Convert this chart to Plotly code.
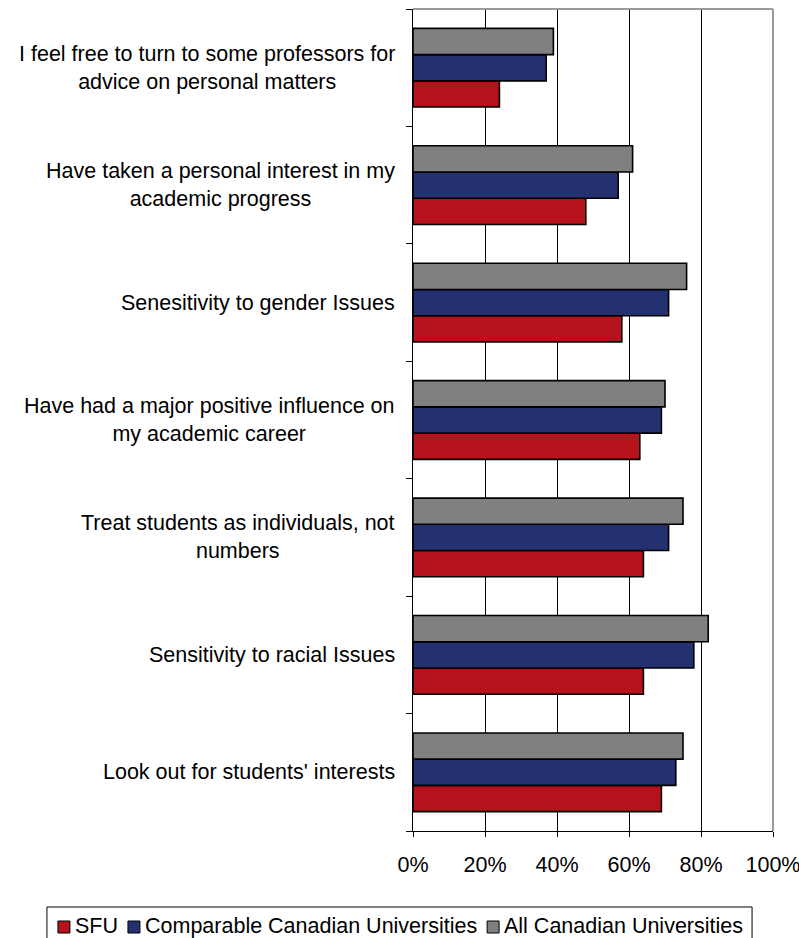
import plotly.graph_objects as go

# Survey items, listed top to bottom
categories = [
    "I feel free to turn to some professors for<br>advice on personal matters",
    "Have taken a personal interest in my<br>academic progress",
    "Senesitivity to gender Issues",
    "Have had a major positive influence on<br>my academic career",
    "Treat students as individuals, not<br>numbers",
    "Sensitivity to racial Issues",
    "Look out for students' interests",
]

# Percent agreeing, per group
sfu = [24, 48, 58, 63, 64, 64, 69]
comparable = [37, 57, 71, 69, 71, 78, 73]
all_canadian = [39, 61, 76, 70, 75, 82, 75]

series_names = ["SFU", "Comparable Canadian Universities", "All Canadian Universities"]
series_values = [sfu, comparable, all_canadian]
series_colors = ["#B5121B", "#253070", "#808080"]

x_ticks = [0, 20, 40, 60, 80, 100]

FONT = "Liberation Sans, Arial, sans-serif"
FONT_SIZE = 21.5

W, H = 799, 938
M_L, M_R, M_T, M_B = 413, 26, 9, 107
PLOT_W = W - M_L - M_R
PLOT_H = H - M_T - M_B


def px_to_paper_x(px):
    return (px - M_L) / PLOT_W


def px_to_paper_y(py):
    return (H - M_B - py) / PLOT_H


# Advance widths (Arial / Liberation Sans, per 1000 em) for legend layout
GLYPH_W = {
    " ": 278, "A": 667, "C": 722, "F": 611, "S": 667, "U": 722,
    "a": 556, "b": 556, "d": 556, "e": 556, "i": 222, "l": 222,
    "m": 833, "n": 556, "o": 556, "p": 556, "r": 333, "s": 500,
    "t": 278, "v": 500,
}


def text_width(s, size):
    return sum(GLYPH_W.get(ch, 556) for ch in s) * size / 1000.0


fig = go.Figure()
for name, vals, color in zip(series_names, series_values, series_colors):
    fig.add_trace(go.Bar(
        y=categories,
        x=vals,
        name=name,
        orientation="h",
        marker=dict(color=color, line=dict(color="#000000", width=1.6)),
        hoverinfo="x+name",
        showlegend=False,
    ))

annotations = []
shapes = []

# Category labels: right-aligned block next to the axis, lines centred
for cat in categories:
    annotations.append(dict(
        x=0, xref="paper", y=cat, yref="y",
        text=cat, showarrow=False,
        xanchor="right", yanchor="middle", align="center",
        xshift=-16,
        font=dict(family=FONT, size=FONT_SIZE, color="#000000"),
    ))

# Plot frame: grey top and right edges
shapes.append(dict(type="line", xref="paper", yref="paper", x0=0, x1=1, y0=1, y1=1,
                   line=dict(color="#999999", width=2), layer="above"))
shapes.append(dict(type="line", xref="paper", yref="paper", x0=1, x1=1, y0=0, y1=1,
                   line=dict(color="#999999", width=2), layer="above"))

# Legend: one boxed row of swatch + name, centred under the chart
SW = 12          # swatch size
SW_GAP = 3       # swatch to text
ITEM_GAP = 12    # text to next swatch
PAD = 11         # inner padding of the box
text_ws = [text_width(n, FONT_SIZE) for n in series_names]
total_w = 2 * PAD + sum(SW + SW_GAP + tw for tw in text_ws) + ITEM_GAP * (len(series_names) - 1)
box_left = W / 2 - total_w / 2
box_top, box_bottom = 907, 941
text_mid = 925.5

shapes.append(dict(type="rect", xref="paper", yref="paper",
                   x0=px_to_paper_x(box_left), x1=px_to_paper_x(box_left + total_w),
                   y0=px_to_paper_y(box_bottom), y1=px_to_paper_y(box_top),
                   line=dict(color="#000000", width=1), fillcolor="rgba(0,0,0,0)"))

cx = box_left + PAD
for name, color, tw in zip(series_names, series_colors, text_ws):
    shapes.append(dict(type="rect", xref="paper", yref="paper",
                       x0=px_to_paper_x(cx), x1=px_to_paper_x(cx + SW),
                       y0=px_to_paper_y(text_mid + 7.5), y1=px_to_paper_y(text_mid - 4.5),
                       line=dict(color="#000000", width=1), fillcolor=color))
    cx += SW + SW_GAP
    annotations.append(dict(
        x=px_to_paper_x(cx), xref="paper", y=px_to_paper_y(text_mid), yref="paper",
        text=name, showarrow=False, xanchor="left", yanchor="middle",
        font=dict(family=FONT, size=FONT_SIZE, color="#000000"),
    ))
    cx += tw + ITEM_GAP

fig.update_layout(
    width=W, height=H,
    margin=dict(l=M_L, r=M_R, t=M_T, b=M_B, autoexpand=False),
    paper_bgcolor="#FFFFFF",
    plot_bgcolor="#FFFFFF",
    barmode="group",
    bargap=0.33,
    bargroupgap=0,
    font=dict(family=FONT, size=FONT_SIZE, color="#000000"),
    showlegend=False,
    annotations=annotations,
    shapes=shapes,
)

fig.update_xaxes(
    range=[0, 100],
    tickvals=x_ticks,
    ticktext=[f"{v}%" for v in x_ticks],
    showgrid=True, gridcolor="#000000", gridwidth=1,
    zeroline=False,
    showline=True, linecolor="#000000", linewidth=1,
    ticks="outside", ticklen=5, tickcolor="#000000", tickwidth=1,
    ticklabelstandoff=9,
    ticklabeloverflow="allow",
    tickfont=dict(family=FONT, size=FONT_SIZE, color="#000000"),
    fixedrange=True,
)

fig.update_yaxes(
    categoryorder="array",
    categoryarray=list(reversed(categories)),
    showticklabels=False,
    showgrid=False,
    zeroline=False,
    showline=True, linecolor="#000000", linewidth=1,
    ticks="outside", ticklen=6, tickcolor="#000000", tickwidth=1,
    tickson="boundaries",
    fixedrange=True,
)

fig.write_html("out.html")
